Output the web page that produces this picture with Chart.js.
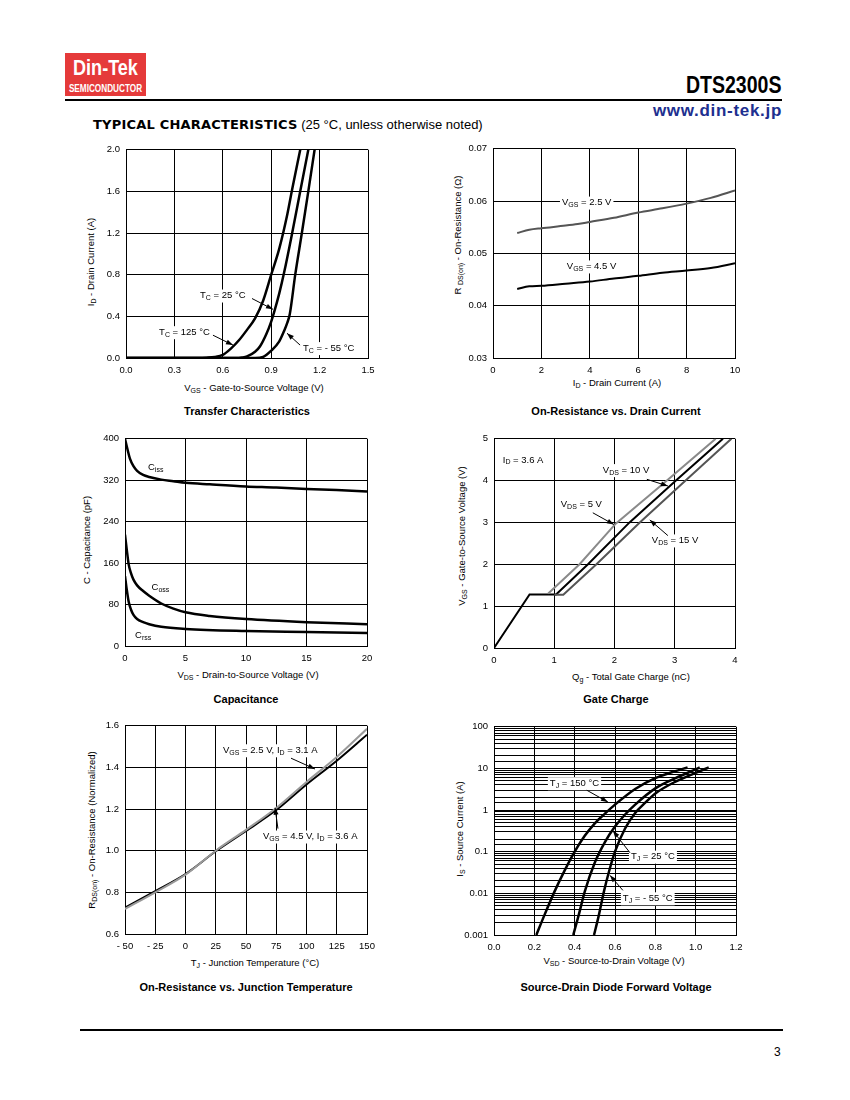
<!DOCTYPE html>
<html><head><meta charset="utf-8">
<script src="https://cdn.jsdelivr.net/npm/chart.js@4.4.0/dist/chart.umd.min.js"></script>
<style>
body{margin:0;background:#fff;width:850px;height:1100px;position:relative;overflow:hidden;font-family:"Liberation Sans",Arial,sans-serif;color:#000;}
canvas{position:absolute;}
.t{position:absolute;white-space:nowrap;font-size:9.5px;transform:translate(-50%,-50%);line-height:12px;}
.ty{transform:translate(-50%,-50%) rotate(-90deg);}
.t sub{font-size:7px;vertical-align:-2px;line-height:0;}
.ct{font-weight:bold;font-size:11px;}
.abs{position:absolute;white-space:nowrap;}
</style></head><body>
<!-- header -->
<div class="abs" style="left:65px;top:53px;width:81px;height:43px;background:#e53a3a;"></div>
<div class="abs" style="left:65px;top:55px;width:81px;text-align:center;color:#fff;font-weight:bold;font-size:22px;line-height:26px;transform:scaleX(0.82);">Din-Tek</div>
<div class="abs" style="left:60px;top:83px;width:91px;text-align:center;color:#fff;font-weight:bold;font-size:10px;line-height:12px;transform:scaleX(0.82);">SEMICONDUCTOR</div>
<div class="abs" style="right:68px;top:72px;font-weight:bold;font-size:23px;transform:scaleX(0.85);transform-origin:right center;">DTS2300S</div>
<div class="abs" style="left:65px;top:99px;width:717px;height:2px;background:#000;"></div>
<div class="abs" style="right:68px;top:101px;font-weight:bold;font-size:17px;letter-spacing:0.7px;color:#202f8f;">www.din-tek.jp</div>
<div class="abs" style="left:93px;top:117px;font-size:13px;"><span style="font-family:'DejaVu Sans';font-weight:bold;letter-spacing:0.2px;">TYPICAL CHARACTERISTICS</span> (25 °C, unless otherwise noted)</div>
<!-- footer -->
<div class="abs" style="left:80px;top:1029px;width:703px;height:2px;background:#000;"></div>
<div class="abs" style="left:774px;top:1045px;font-size:12px;">3</div>

<!-- axis titles & chart titles -->
<div class="t" style="left:254px;top:388px;">V<sub>GS</sub> - Gate-to-Source Voltage (V)</div>
<div class="t ty" style="left:91px;top:262px;">I<sub>D</sub> - Drain Current (A)</div>
<div class="t ct" style="left:247px;top:411px;">Transfer Characteristics</div>

<div class="t" style="left:617px;top:383px;">I<sub>D</sub> - Drain Current (A)</div>
<div class="t ty" style="left:458px;top:235px;">R <sub>DS(on)</sub> - On-Resistance (Ω)</div>
<div class="t ct" style="left:616px;top:411px;">On-Resistance vs. Drain Current</div>

<div class="t" style="left:248px;top:675px;">V<sub>DS</sub> - Drain-to-Source Voltage (V)</div>
<div class="t ty" style="left:87px;top:540px;">C - Capacitance (pF)</div>
<div class="t ct" style="left:246px;top:699px;">Capacitance</div>

<div class="t" style="left:631px;top:677px;">Q<sub>g</sub> - Total Gate Charge (nC)</div>
<div class="t ty" style="left:462px;top:536px;">V<sub>GS</sub> - Gate-to-Source Voltage (V)</div>
<div class="t ct" style="left:616px;top:699px;">Gate Charge</div>

<div class="t" style="left:255px;top:963px;">T<sub>J</sub> - Junction Temperature (°C)</div>
<div class="t ty" style="left:92px;top:830px;">R<sub>DS(on)</sub> - On-Resistance (Normalized)</div>
<div class="t ct" style="left:246px;top:987px;">On-Resistance vs. Junction Temperature</div>

<div class="t" style="left:614px;top:961px;">V<sub>SD</sub> - Source-to-Drain Voltage (V)</div>
<div class="t ty" style="left:460px;top:829px;">I<sub>S</sub> - Source Current (A)</div>
<div class="t ct" style="left:616px;top:987px;">Source-Drain Diode Forward Voltage</div>

<canvas id="c1"></canvas><canvas id="c2"></canvas><canvas id="c3"></canvas>
<canvas id="c4"></canvas><canvas id="c5"></canvas><canvas id="c6"></canvas>
<script>
// ---------- DATA ----------
// 1. Transfer characteristics  [VGS (V), ID (A)]
const trX = [0.0,0.3,0.6,0.9,1.2,1.5];
const trXLabels = ['0.0','0.3','0.6','0.9','1.2','1.5'];
const trY = [0.0,0.4,0.8,1.2,1.6,2.0];
const trYLabels = ['0.0','0.4','0.8','1.2','1.6','2.0'];
const trT125 = [[0,0],[0.45,0],[0.5,0.003],[0.55,0.01],[0.6,0.03],[0.65,0.09],[0.7,0.17],[0.75,0.27],[0.8,0.38],[0.85,0.55],[0.9,0.8],[0.95,1.05],[1.0,1.38],[1.03,1.62],[1.08,2.0]];
const trT25  = [[0,0],[0.68,0],[0.72,0.005],[0.75,0.015],[0.8,0.06],[0.83,0.11],[0.87,0.23],[0.9,0.35],[0.92,0.45],[0.95,0.62],[0.98,0.82],[1.03,1.2],[1.08,1.6],[1.13,2.0]];
const trTm55 = [[0,0],[0.8,0],[0.85,0.01],[0.9,0.07],[0.95,0.16],[0.98,0.26],[1.0,0.34],[1.015,0.42],[1.049,0.8],[1.09,1.2],[1.13,1.6],[1.169,2.0]];

// 2. On-resistance vs drain current [ID (A), RDS(on) (Ω)]
const orX = [0,2,4,6,8,10];
const orXLabels = ['0','2','4','6','8','10'];
const orY = [0.03,0.04,0.05,0.06,0.07];
const orYLabels = ['0.03','0.04','0.05','0.06','0.07'];
const orV25 = [[1,0.0539],[1.5,0.0545],[2,0.0548],[3,0.0553],[3.5,0.0556],[4,0.0560],[5,0.0568],[6,0.0578],[7,0.0586],[8,0.0595],[9,0.0606],[10,0.0620]];
const orV45 = [[1,0.0432],[1.5,0.0437],[2,0.0438],[3,0.0442],[4,0.0446],[5,0.0452],[6,0.0457],[7,0.0463],[8,0.0467],[9,0.0472],[10,0.0481]];

// 3. Capacitance [VDS (V), C (pF)]
const capX = [0,5,10,15,20];
const capXLabels = ['0','5','10','15','20'];
const capY = [0,80,160,240,320,400];
const capYLabels = ['0','80','160','240','320','400'];
const capCiss = [[0,400],[0.2,380],[0.4,362],[0.7,347],[1,338],[1.5,330],[2,326],[3,321],[4,318],[5,315],[7,312],[10,308],[12.5,306],[15,303],[17.5,301],[20,298]];
const capCoss = [[0,215],[0.15,185],[0.3,158],[0.5,140],[0.7,128],[1,117],[1.5,106],[2,97],[3,82],[4,72],[5,65],[7,58],[10,52],[15,46],[20,42]];
const capCrss = [[0,135],[0.15,108],[0.3,86],[0.5,70],[0.7,60],[1,52],[1.5,46],[2,42],[3,37],[5,33],[10,29],[15,27],[20,25]];

// 4. Gate charge [Qg (nC), VGS (V)]
const gcX = [0,1,2,3,4];
const gcXLabels = ['0','1','2','3','4'];
const gcY = [0,1,2,3,4,5];
const gcYLabels = ['0','1','2','3','4','5'];
const gcV10 = [[0,0],[0.59,1.28],[1.03,1.28],[1.56,2],[2.25,3],[3.02,4],[3.8,5]];
const gcV5  = [[0.9,1.3],[1.42,2],[2.02,2.97],[2.87,4],[3.68,5]];
const gcV15 = [[1.0,1.27],[1.15,1.27],[1.70,2],[2.42,3],[3.18,4],[3.94,5]];

// 5. On-resistance vs junction temperature [TJ (°C), normalized RDS(on)]
const rtX = [-50,-25,0,25,50,75,100,125,150];
const rtXLabels = ['- 50','- 25','0','25','50','75','100','125','150'];
const rtY = [0.6,0.8,1.0,1.2,1.4,1.6];
const rtYLabels = ['0.6','0.8','1.0','1.2','1.4','1.6'];
const rtV25 = [[-50,0.72],[-25,0.80],[0,0.885],[25,1.0],[50,1.10],[75,1.205],[100,1.33],[125,1.45],[150,1.585]];
const rtV45 = [[-50,0.727],[-25,0.806],[0,0.888],[25,0.997],[50,1.095],[75,1.195],[100,1.318],[125,1.432],[150,1.557]];

// 6. Source-drain diode forward voltage [VSD (V), IS (A)]
const sdX = [0.0,0.2,0.4,0.6,0.8,1.0,1.2];
const sdXLabels = ['0.0','0.2','0.4','0.6','0.8','1.0','1.2'];
const sdYDecades = [0.001,0.01,0.1,1,10,100];
const sdYLabels = ['0.001','0.01','0.1','1','10','100'];
const sdT150 = [[0.21,0.001],[0.25,0.003],[0.30,0.011],[0.35,0.035],[0.40,0.1],[0.45,0.24],[0.50,0.48],[0.55,0.82],[0.60,1.35],[0.70,3.2],[0.80,5.8],[0.90,8.6],[0.96,10.5]];
const sdT25  = [[0.393,0.001],[0.42,0.003],[0.45,0.011],[0.50,0.055],[0.55,0.17],[0.60,0.40],[0.65,0.78],[0.70,1.35],[0.80,3.3],[0.90,5.8],[1.0,9.5],[1.02,10.5]];
const sdTm55 = [[0.496,0.001],[0.52,0.003],[0.545,0.011],[0.57,0.033],[0.60,0.1],[0.65,0.36],[0.70,0.85],[0.75,1.5],[0.80,2.5],[0.90,4.8],[1.0,7.8],[1.065,10.5]];

// ---------- RENDERING ----------
const FONT = '"Liberation Sans", Arial, sans-serif';
function parseRich(s){
  const parts=[]; const re=/_\{([^}]*)\}/g; let last=0,m;
  while((m=re.exec(s))){ if(m.index>last) parts.push({t:s.slice(last,m.index)}); parts.push({t:m[1],sub:true}); last=re.lastIndex; }
  if(last<s.length) parts.push({t:s.slice(last)});
  return parts;
}
const annot = {
  id:'annot',
  afterDatasetsDraw(chart,args,opts){
    const ctx=chart.ctx, xs=chart.scales.x, ys=chart.scales.y;
    ctx.save();
    (opts.labels||[]).forEach(l=>{
      const parts=parseRich(l.text);
      let x=xs.getPixelForValue(l.x), y=ys.getPixelForValue(l.y);
      const fN='9.5px '+FONT, fS='7px '+FONT;
      let w=0; parts.forEach(p=>{ctx.font=p.sub?fS:fN; p.w=ctx.measureText(p.t).width; w+=p.w;});
      if(l.bg){ctx.fillStyle='#fff';ctx.fillRect(x-2,y-6,w+4,13);}
      ctx.fillStyle='#000'; ctx.textBaseline='middle'; ctx.textAlign='left';
      parts.forEach(p=>{ctx.font=p.sub?fS:fN; ctx.fillText(p.t,x,p.sub?y+2.5:y); x+=p.w;});
    });
    (opts.arrows||[]).forEach(a=>{
      const x1=xs.getPixelForValue(a[0]),y1=ys.getPixelForValue(a[1]),x2=xs.getPixelForValue(a[2]),y2=ys.getPixelForValue(a[3]);
      ctx.strokeStyle='#000';ctx.lineWidth=1;ctx.beginPath();ctx.moveTo(x1,y1);ctx.lineTo(x2,y2);ctx.stroke();
      const ang=Math.atan2(y2-y1,x2-x1), L=7, W=2.5;
      ctx.beginPath();ctx.moveTo(x2,y2);
      ctx.lineTo(x2-L*Math.cos(ang)+W*Math.sin(ang), y2-L*Math.sin(ang)-W*Math.cos(ang));
      ctx.lineTo(x2-L*Math.cos(ang)-W*Math.sin(ang), y2-L*Math.sin(ang)+W*Math.cos(ang));
      ctx.closePath();ctx.fillStyle='#000';ctx.fill();
    });
    ctx.restore();
  }
};
const YW=40, XH=22, PT=10, PR=15;
function linAxis(vals, labels, isX){
  return {
    type:'linear', min:vals[0], max:vals[vals.length-1],
    afterBuildTicks:s=>{ s.ticks = vals.map(v=>({value:v})); },
    afterFit:s=>{ if(isX) s.height=XH; else s.width=YW; },
    ticks:{ autoSkip:false, maxRotation:0, padding:isX?7:6, color:'#000', font:{family:FONT,size:9.5},
            callback:(v,i)=>labels[i] },
    grid:{ color:'#000', lineWidth:1, drawTicks:false },
    border:{ color:'#000', width:1 }
  };
}
function ds(pts,color,width,mono){
  return { data:pts.map(p=>({x:p[0],y:p[1]})), borderColor:color, borderWidth:width, pointRadius:0,
           showLine:true, fill:false, cubicInterpolationMode: mono?'monotone':'default', tension:0 };
}
function make(id, area, datasets, xAxis, yAxis, ann){
  const cv=document.getElementById(id);
  const w=(area.r-area.l)+YW+PR, h=(area.b-area.t)+PT+XH;
  cv.style.left=(area.l-YW)+'px'; cv.style.top=(area.t-PT)+'px';
  cv.width=w; cv.height=h; cv.style.width=w+'px'; cv.style.height=h+'px';
  return new Chart(cv,{
    type:'scatter',
    data:{datasets},
    plugins:[annot],
    options:{
      responsive:false, animation:false, devicePixelRatio:1,
      layout:{autoPadding:false, padding:{top:PT,right:PR,left:0,bottom:0}},
      plugins:{legend:{display:false}, tooltip:{enabled:false}, annot:ann},
      scales:{x:xAxis, y:yAxis}
    }
  });
}

// Chart 1
make('c1',{l:126,t:148,r:368,b:358},
  [ds(trT125,'#000',2.5,true), ds(trT25,'#000',2.5,true), ds(trTm55,'#000',2.5,true)],
  linAxis(trX,trXLabels,true), linAxis(trY,trYLabels,false),
  {labels:[{text:'T_{C} = 25 °C',x:0.459,y:0.60,bg:true},{text:'T_{C} = 125 °C',x:0.205,y:0.248,bg:true},{text:'T_{C} = - 55 °C',x:1.097,y:0.095,bg:true}],
   arrows:[[0.781,0.571,0.911,0.467],[0.539,0.219,0.663,0.124],[1.079,0.124,0.998,0.238]]});

// Chart 2
make('c2',{l:493,t:147,r:735,b:358},
  [ds(orV25,'#555',2,true), ds(orV45,'#000',2,true)],
  linAxis(orX,orXLabels,true), linAxis(orY,orYLabels,false),
  {labels:[{text:'V_{GS} = 2.5 V',x:2.85,y:0.0597,bg:true},{text:'V_{GS} = 4.5 V',x:3.05,y:0.0475,bg:true}], arrows:[]});

// Chart 3
make('c3',{l:125,t:437,r:367,b:646},
  [ds(capCiss,'#000',2.5,true), ds(capCoss,'#000',2.5,true), ds(capCrss,'#000',2.5,true)],
  linAxis(capX,capXLabels,true), linAxis(capY,capYLabels,false),
  {labels:[{text:'C_{iss}',x:1.9,y:345},{text:'C_{oss}',x:2.2,y:113},{text:'C_{rss}',x:0.83,y:20}], arrows:[]});

// Chart 4
make('c4',{l:494,t:437,r:735,b:648},
  [ds(gcV5,'#8a8a8a',2,false), ds(gcV15,'#555',2,false), ds(gcV10,'#000',2,false)],
  linAxis(gcX,gcXLabels,true), linAxis(gcY,gcYLabels,false),
  {labels:[{text:'I_{D} = 3.6 A',x:0.145,y:4.49,bg:true},{text:'V_{DS} = 10 V',x:1.806,y:4.25,bg:true},{text:'V_{DS} = 5 V',x:1.108,y:3.42,bg:true},{text:'V_{DS} = 15 V',x:2.62,y:2.57,bg:true}],
   arrows:[[2.537,4.03,2.886,3.87],[1.64,3.23,1.99,2.95],[2.886,2.685,2.586,3.06]]});

// Chart 5
make('c5',{l:125,t:724,r:367,b:934},
  [ds(rtV25,'#999',2,true), ds(rtV45,'#000',2,true)],
  linAxis(rtX,rtXLabels,true), linAxis(rtY,rtYLabels,false),
  {labels:[{text:'V_{GS} = 2.5 V, I_{D} = 3.1 A',x:31,y:1.482,bg:true},{text:'V_{GS} = 4.5 V, I_{D} = 3.6 A',x:64,y:1.068,bg:true}],
   arrows:[[87.2,1.444,107,1.392],[76.4,1.106,74,1.206]]});

// Chart 6
const sdYAxis = {
  type:'logarithmic', min:sdYDecades[0], max:sdYDecades[sdYDecades.length-1],
  afterFit:s=>{ s.width=YW; },
  ticks:{ autoSkip:false, padding:6, color:'#000', font:{family:FONT,size:9.5},
          callback:(v)=>{ const i=sdYDecades.findIndex(d=>Math.abs(Math.log10(d)-Math.log10(v))<1e-6); return i>=0?sdYLabels[i]:''; } },
  grid:{ color:'#000', lineWidth:1, drawTicks:false },
  border:{ color:'#000', width:1 }
};
make('c6',{l:494,t:725,r:736,b:935},
  [ds(sdT150,'#000',2.5,true), ds(sdT25,'#000',2.5,true), ds(sdTm55,'#000',2.5,true)],
  linAxis(sdX,sdXLabels,true), sdYAxis,
  {labels:[{text:'T_{J} = 150 °C',x:0.277,y:4.4,bg:true},{text:'T_{J} = 25 °C',x:0.679,y:0.076,bg:true},{text:'T_{J} = - 55 °C',x:0.639,y:0.0076,bg:true}],
   arrows:[[0.46,2.99,0.565,1.55],[0.674,0.0946,0.59,0.316],[0.639,0.0118,0.575,0.027]]});
</script>
</body></html>
